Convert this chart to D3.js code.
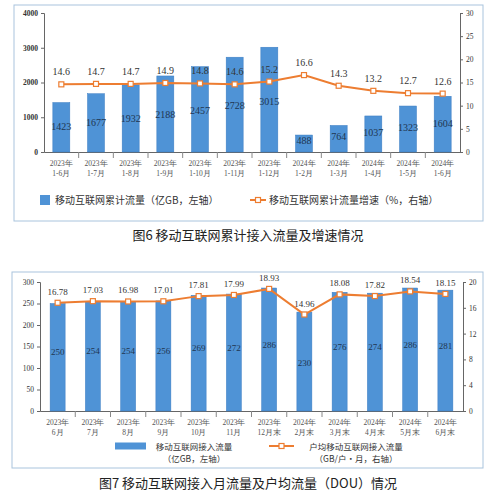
<!DOCTYPE html>
<html><head><meta charset="utf-8">
<script src="https://cdn.jsdelivr.net/npm/d3@7"></script>
<style>body{margin:0;background:#fff}svg{display:block}</style>
</head><body>
<svg id="c" width="499" height="497"></svg>
<script>
const cats1 = [["2023年","1-6月"],["2023年","1-7月"],["2023年","1-8月"],["2023年","1-9月"],["2023年","1-10月"],["2023年","1-11月"],["2023年","1-12月"],["2024年","1-2月"],["2024年","1-3月"],["2024年","1-4月"],["2024年","1-5月"],["2024年","1-6月"]];
const bars1 = [1423,1677,1932,2188,2457,2728,3015,488,764,1037,1323,1604];
const line1 = [14.6,14.7,14.7,14.9,14.8,14.6,15.2,16.6,14.3,13.2,12.7,12.6];
const leftTicks1 = [0,1000,2000,3000,4000];
const rightTicks1 = [0,5,10,15,20,25,30];

const cats2 = [["2023年","6月"],["2023年","7月"],["2023年","8月"],["2023年","9月"],["2023年","10月"],["2023年","11月"],["2023年","12月末"],["2024年","2月末"],["2024年","3月末"],["2024年","4月末"],["2024年","5月末"],["2024年","6月末"]];
const bars2 = [250,254,254,256,269,272,286,230,276,274,286,281];
const line2 = [16.78,17.03,16.98,17.01,17.81,17.99,18.93,14.96,18.08,17.82,18.54,18.15];
const leftTicks2 = [0,50,100,150,200,250,300];
const rightTicks2 = [0,4,8,12,16,20];

const svg = d3.select("#c");
const serif = "'Liberation Serif','DejaVu Serif',serif";
const sans = "'Noto Sans CJK SC','Noto Sans',sans-serif";
const BLUE = "#4f93d6", ORANGE = "#ed7d31";

function chart(o){
  svg.append("rect").attr("x",o.frame[0]).attr("y",o.frame[1]).attr("width",o.frame[2]).attr("height",o.frame[3])
    .attr("fill","none").attr("stroke","#a9c4dd").attr("stroke-width",1);
  const x = d3.scaleBand().domain(d3.range(o.bars.length)).range([o.l,o.r]);
  const y = d3.scaleLinear().domain([0,o.lmax]).range([o.b,o.t]);
  const y2 = d3.scaleLinear().domain([0,o.rmax]).range([o.b,o.t]);
  const g = svg.append("g");
  g.append("g").attr("transform",`translate(${o.l},0)`).call(d3.axisLeft(y).tickValues(o.lt).tickSize(3).tickFormat(d=>d))
   .call(a=>{a.selectAll("text").attr("font-family",serif).attr("font-size",7.5).attr("font-weight",o.boldTicks?"bold":"normal").attr("fill","#333");a.selectAll("path,line").attr("stroke","#666");});
  g.append("g").attr("transform",`translate(${o.r},0)`).call(d3.axisRight(y2).tickValues(o.rt).tickSize(3))
   .call(a=>{a.selectAll("text").attr("font-family",serif).attr("font-size",7.5).attr("fill","#333");a.selectAll("path,line").attr("stroke","#666");});
  const xa = g.append("g").attr("transform",`translate(0,${o.b})`).call(d3.axisBottom(x).tickSize(0).tickFormat(""));
  xa.selectAll("path").attr("stroke","#666");
  x.domain().forEach(i=>{
    const xx = x(i)+x.bandwidth();
    if(i<o.bars.length-1) g.append("line").attr("x1",xx).attr("x2",xx).attr("y1",o.b).attr("y2",o.b+6).attr("stroke","#888");
    o.cats[i].forEach((s,k)=>g.append("text").attr("x",x(i)+x.bandwidth()/2).attr("y",o.b+14+k*10)
      .attr("text-anchor","middle").attr("font-family",serif).attr("font-size",7.5).attr("fill","#555").text(s));
  });
  g.selectAll(".bar").data(o.bars).enter().append("rect")
    .attr("x",(d,i)=>x(i)+(x.bandwidth()-o.bw)/2).attr("width",o.bw)
    .attr("y",d=>y(d)).attr("height",d=>o.b-y(d)).attr("fill",BLUE).attr("stroke","#3a7cc2").attr("stroke-width",0.5);
  g.selectAll(".bl").data(o.bars).enter().append("text")
    .attr("x",(d,i)=>x(i)+x.bandwidth()/2).attr("y",(d,i)=>o.labelY(d,i,y)).attr("text-anchor","middle")
    .attr("font-family",serif).attr("font-size",o.blfs).attr("fill","#1f3550").text(d=>d);
  const line = d3.line().x((d,i)=>x(i)+x.bandwidth()/2).y(d=>y2(d));
  g.append("path").datum(o.line).attr("d",line).attr("fill","none").attr("stroke",ORANGE).attr("stroke-width",2);
  g.selectAll(".m").data(o.line).enter().append("rect")
    .attr("x",(d,i)=>x(i)+x.bandwidth()/2-2.5).attr("y",d=>y2(d)-2.5).attr("width",5).attr("height",5)
    .attr("fill","#fff").attr("stroke",ORANGE).attr("stroke-width",1.2);
  g.selectAll(".ll").data(o.line).enter().append("text")
    .attr("x",(d,i)=>x(i)+x.bandwidth()/2).attr("y",d=>y2(d)-o.llOff).attr("text-anchor","middle")
    .attr("font-family",serif).attr("font-size",o.llfs).attr("fill","#333").text(d=>d.toFixed(o.dec));
}

chart({frame:[14,5,469,216],l:44,r:460,t:13,b:152,lmax:4000,rmax:30,lt:leftTicks1,rt:rightTicks1,boldTicks:true,
  bars:bars1,line:line1,cats:cats1,bw:17,
  labelY:(d,i,y)=> d<600 ? y(d)+9 : Math.min(y(d)+ (y(0)-y(d))*0.55, 145),
  blfs:10,llOff:9,llfs:10,dec:1});

chart({frame:[12,272,471,196],l:40,r:463,t:282,b:411,lmax:300,rmax:20,lt:leftTicks2,rt:rightTicks2,boldTicks:false,
  bars:bars2,line:line2,cats:cats2,bw:15,
  labelY:(d,i,y)=> y(d/2)+ (d<240?4:-2),
  blfs:9,llOff:8,llfs:9,dec:2});

function legend(y, items){
  items.forEach(it=>{
    if(it.type==="bar") svg.append("rect").attr("x",it.x).attr("y",y-it.h/2).attr("width",it.w).attr("height",it.h).attr("fill",BLUE);
    else { svg.append("line").attr("x1",it.x).attr("x2",it.x+it.w).attr("y1",y).attr("y2",y).attr("stroke",ORANGE).attr("stroke-width",2);
      svg.append("rect").attr("x",it.x+it.w/2-2.5).attr("y",y-2.5).attr("width",5).attr("height",5).attr("fill","#fff").attr("stroke",ORANGE).attr("stroke-width",1.2);}
    it.text.forEach((s,k)=>svg.append("text").attr("x",it.tx).attr("y",y+3.5+k*12).attr("text-anchor",it.anchor||"start")
      .attr("font-family",sans).attr("font-size",it.fs).attr("fill","#333").text(s));
  });
}
legend(200,[{type:"bar",x:40,w:10,h:10,tx:55,fs:10,text:["移动互联网累计流量（亿GB，左轴）"]},
            {type:"line",x:250,w:16,tx:269,fs:10,text:["移动互联网累计流量增速（%，右轴）"]}]);
legend(446,[{type:"bar",x:115,w:31,h:7,tx:194,anchor:"middle",fs:8.5,text:["移动互联网接入流量","（亿GB，左轴）"]},
            {type:"line",x:269,w:25,tx:356,anchor:"middle",fs:8.5,text:["户均移动互联网接入流量","（GB/户・月，右轴）"]}]);

svg.append("text").attr("x",248).attr("y",240).attr("text-anchor","middle").attr("font-family",sans).attr("font-size",13).attr("fill","#222").text("图6 移动互联网累计接入流量及增速情况");
svg.append("text").attr("x",248).attr("y",488).attr("text-anchor","middle").attr("font-family",sans).attr("font-size",13).attr("fill","#222").text("图7 移动互联网接入月流量及户均流量（DOU）情况");
</script>
</body></html>
